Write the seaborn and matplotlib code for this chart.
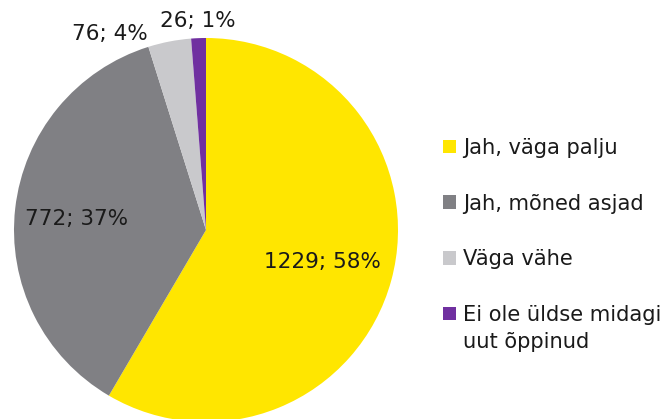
import numpy as np
import matplotlib
matplotlib.use("Agg")
import matplotlib.pyplot as plt
import seaborn as sns
from matplotlib.patches import Patch

categories = ["Jah, väga palju", "Jah, mõned asjad", "Väga vähe", "Ei ole üldse midagi"]
legend_extra = "uut õppinud"
counts = [1229, 772, 76, 26]
percents = [58, 37, 4, 1]
colors = ["#FFE600", "#808084", "#C9C9CC", "#7030A0"]

sns.set_theme(style="white")
plt.rcParams["font.family"] = ["DejaVu Sans"]

fig = plt.figure(figsize=(6.67, 4.19), dpi=100)
W, H = 667, 419
cx, cy, r = 206, 230, 192
ax = fig.add_axes([(cx - r) / W, (H - cy - r) / H, 2 * r / W, 2 * r / H])

wedges, _ = ax.pie(counts, colors=colors, startangle=90, counterclock=False,
                   wedgeprops=dict(linewidth=0), radius=1.0)
ax.set_xlim(-1, 1)
ax.set_ylim(-1, 1)
ax.set_aspect("equal")
ax.axis("off")

labels = [f"{c}; {p}%" for c, p in zip(counts, percents)]
dists = [0.63, 0.68, None, 1.09]
fs = 15.5
for w, lab, d in zip(wedges, labels, dists):
    ang = np.deg2rad((w.theta1 + w.theta2) / 2)
    if d is None:
        # small light-grey slice: label placed up-left of the slice
        ax.text(-0.5, 1.02, lab, ha="center", va="center", fontsize=fs, color="#1a1a1a")
    else:
        ax.text(d * np.cos(ang), d * np.sin(ang) - (0.02 if d == 0.68 else 0), lab,
                ha="center", va="center", fontsize=fs, color="#1a1a1a")

lfs = 15.1
handles = [Patch(facecolor=c, edgecolor="none") for c in colors]
leg = fig.legend(handles, categories, loc="upper left",
                 bbox_to_anchor=(443 / W, 1 - 138 / H), frameon=False,
                 fontsize=lfs, handlelength=0.62, handleheight=0.62,
                 handletextpad=0.32, labelspacing=1.70, borderpad=0, borderaxespad=0)
for t in leg.get_texts():
    t.set_color("#1a1a1a")

fig.canvas.draw()
bb = leg.get_texts()[-1].get_window_extent()
fig.text(bb.x0 / W, (bb.y0 - 7) / H, legend_extra, ha="left", va="top",
         fontsize=lfs, color="#1a1a1a")

fig.savefig("out.png", dpi=100)
